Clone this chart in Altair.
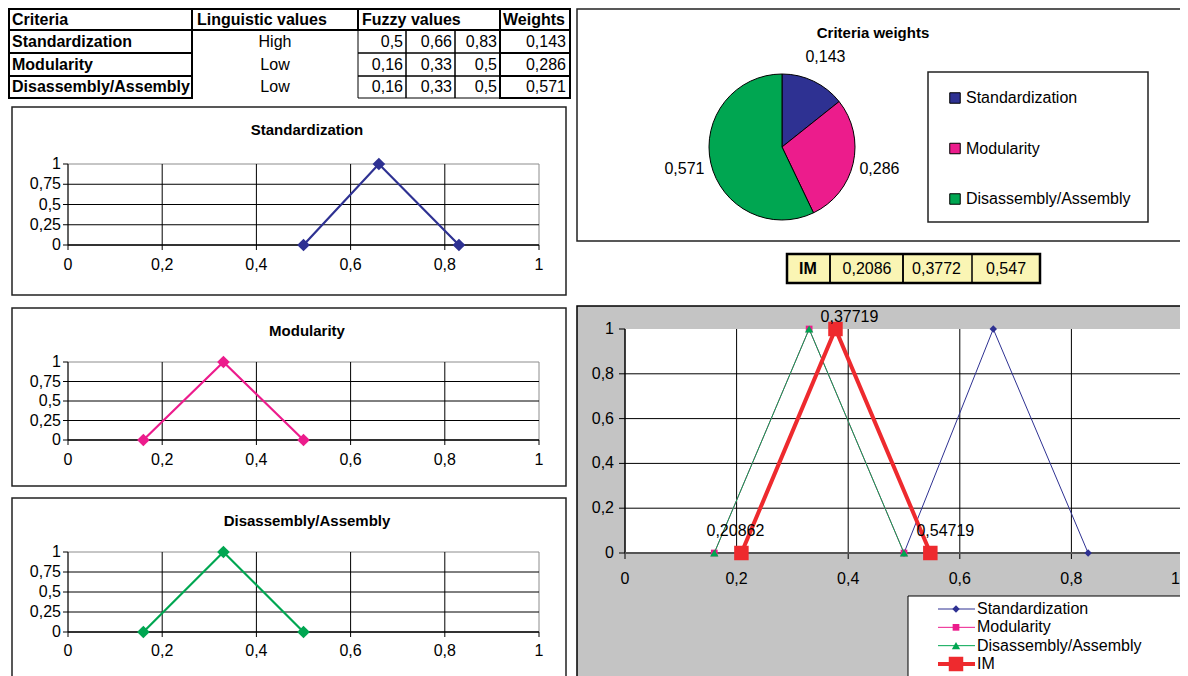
import math
import altair as alt
import pandas as pd

# ---------------- data ----------------
criteria = ["Standardization", "Modularity", "Disassembly/Assembly"]
linguistic = ["High", "Low", "Low"]
fuzzy_l = [0.5, 0.16, 0.16]
fuzzy_m = [0.66, 0.33, 0.33]
fuzzy_u = [0.83, 0.5, 0.5]
weights = [0.143, 0.286, 0.571]
table_headers = ["Criteria", "Linguistic values", "Fuzzy values", "Weights"]
im_label = "IM"
im_table_values = [0.2086, 0.3772, 0.547]
im_points = [0.20862, 0.37719, 0.54719]
membership = [0, 1, 0]
x_ticks = [0, 0.2, 0.4, 0.6, 0.8, 1]
y_ticks_small = [0, 0.25, 0.5, 0.75, 1]
y_ticks_big = [0, 0.2, 0.4, 0.6, 0.8, 1]
pie_title = "Criteria weights"
series = criteria + [im_label]

# ---------------- style ----------------
FONT = "Liberation Sans, Arial, Helvetica, sans-serif"
crit_colors = ["#2E3192", "#EC1C8C", "#00A651"]
im_color = "#EE2A2E"
series_colors = crit_colors + [im_color]
series_shapes = ["diamond", "square", "triangle-up", "square"]
series_sizes = [55, 45, 70, 210]
series_widths = [1, 1, 1, 4]
grey_bg = "#C4C4C4"
im_fill = "#FAF5B4"

W, H, M = 1172, 668, 8


def fmt(v):
    return f"{v:g}".replace(".", ",")


def PX(v):
    return alt.value(v - M)


ONE = alt.Data(values=[{"k": 1}])


def rect(x1, y1, x2, y2, fill="white", stroke="black", sw=1.0, fop=1.0):
    kw = dict(fill=fill, fillOpacity=fop)
    if stroke is not None:
        kw.update(stroke=stroke, strokeWidth=sw)
    else:
        kw.update(strokeWidth=0)
    return alt.Chart(ONE).mark_rect(**kw).encode(
        x=PX(x1), x2=PX(x2), y=PX(y1), y2=PX(y2))


def text(t, x, y, size=15, bold=False, align="center"):
    return alt.Chart(ONE).mark_text(
        text=t, font=FONT, fontSize=size, fontWeight="bold" if bold else "normal",
        align=align, baseline="middle", color="black").encode(x=PX(x), y=PX(y))


def lin(d0, d1, r0, r1):
    return alt.Scale(domain=[d0, d1], range=[r0 - M, r1 - M], nice=False, zero=False)


CXS = alt.Scale(domain=[M, M + W], range=[0, W], nice=False, zero=False)
CYS = alt.Scale(domain=[M, M + H], range=[0, H], nice=False, zero=False)


def rects(lst, sw, stroke="black"):
    df = pd.DataFrame(lst, columns=["x1", "y1", "x2", "y2"])
    return alt.Chart(df).mark_rect(fill="white", fillOpacity=0, stroke=stroke, strokeWidth=sw).encode(
        x=alt.X("x1:Q", scale=CXS, axis=None), x2="x2:Q",
        y=alt.Y("y1:Q", scale=CYS, axis=None), y2="y2:Q")


layers = []

# ---------------- top-left table ----------------
TC = [9, 192, 358, 406, 455, 500, 570]
TR = [9, 30, 53, 76, 98]
thin = [(TC[c], TR[r], TC[c + 1], TR[r + 1]) for r in range(1, 4) for c in (2, 3, 4)]
thick = [(TC[0], TR[0], TC[1], TR[1]), (TC[1], TR[0], TC[2], TR[1]),
         (TC[2], TR[0], TC[5], TR[1]), (TC[5], TR[0], TC[6], TR[1])]
thick += [(TC[0], TR[r], TC[1], TR[r + 1]) for r in range(1, 4)]
thick += [(TC[5], TR[r], TC[6], TR[r + 1]) for r in range(1, 4)]
layers.append(rects(thin, 1))
layers.append(rects(thick, 2))

for h, hx in zip(table_headers, [12, 197, 362, 503]):
    layers.append(text(h, hx, 19.5, 16, True, "left"))

tdf = pd.DataFrame({
    "r": list(range(3)), "crit": criteria, "ling": linguistic,
    "a": [fmt(v) for v in fuzzy_l], "b": [fmt(v) for v in fuzzy_m],
    "c": [fmt(v) for v in fuzzy_u], "w": [fmt(v) for v in weights]})
ROWY = lin(0, 2, 42, 87)


def col_text(field, x, align, bold=False):
    return alt.Chart(tdf).mark_text(
        align=align, baseline="middle", font=FONT, fontSize=16,
        fontWeight="bold" if bold else "normal", color="black").encode(
        x=PX(x), y=alt.Y("r:Q", scale=ROWY, axis=None), text=f"{field}:N")


layers.append(col_text("crit", 12, "left", True))
layers.append(col_text("ling", 275, "center"))
layers.append(col_text("a", 403, "right"))
layers.append(col_text("b", 452, "right"))
layers.append(col_text("c", 497, "right"))
layers.append(col_text("w", 566, "right"))

# ---------------- small membership charts ----------------
xt = pd.DataFrame({"t": x_ticks, "lab": [fmt(v) for v in x_ticks]})
yts = pd.DataFrame({"t": y_ticks_small, "lab": [fmt(v) for v in y_ticks_small]})

panels = [
    dict(box=(12, 107, 566, 295), ty=130, top=164, bottom=245, ly=265),
    dict(box=(12, 308, 566, 486), ty=331, top=362, bottom=440, ly=460),
    dict(box=(12, 498, 566, 720), ty=521, top=552, bottom=632, ly=651),
]
for i, p in enumerate(panels):
    left, right, top, bottom = 68, 539, p["top"], p["bottom"]
    xs = lin(0, 1, left, right)
    ys = lin(0, 1, bottom, top)
    layers.append(rect(*p["box"], stroke="#222222", sw=1.5))
    layers.append(text(criteria[i], 307, p["ty"], 15, True))
    layers.append(rect(left, top, right, bottom, stroke="#8C8C8C", sw=1))
    layers.append(alt.Chart(yts).transform_filter("datum.t > 0 && datum.t < 1").mark_rule(
        color="black", strokeWidth=1).encode(
        y=alt.Y("t:Q", scale=ys, axis=None), x=PX(left), x2=PX(right)))
    layers.append(alt.Chart(xt).transform_filter("datum.t > 0 && datum.t < 1").mark_rule(
        color="black", strokeWidth=1).encode(
        x=alt.X("t:Q", scale=xs, axis=None), y=PX(top), y2=PX(bottom)))
    # axes
    layers.append(alt.Chart(yts).mark_rule(color="black", strokeWidth=1).encode(
        y=alt.Y("t:Q", scale=ys, axis=None), x=PX(left - 5), x2=PX(left)))
    layers.append(alt.Chart(xt).mark_rule(color="black", strokeWidth=1).encode(
        x=alt.X("t:Q", scale=xs, axis=None), y=PX(bottom), y2=PX(bottom + 5)))
    layers.append(rect(left - 0.5, top, left + 0.5, bottom, fill="black", stroke=None))
    layers.append(rect(left, bottom - 0.75, right, bottom + 0.75, fill="black", stroke=None))
    layers.append(alt.Chart(yts).mark_text(
        align="right", baseline="middle", font=FONT, fontSize=16, color="black").encode(
        y=alt.Y("t:Q", scale=ys, axis=None), x=PX(left - 7), text="lab:N"))
    layers.append(alt.Chart(xt).mark_text(
        align="center", baseline="middle", font=FONT, fontSize=16, color="black").encode(
        x=alt.X("t:Q", scale=xs, axis=None), y=PX(p["ly"]), text="lab:N"))
    d = pd.DataFrame({"x": [fuzzy_l[i], fuzzy_m[i], fuzzy_u[i]], "y": membership})
    layers.append(alt.Chart(d).mark_line(color=crit_colors[i], strokeWidth=2.2).encode(
        x=alt.X("x:Q", scale=xs, axis=None), y=alt.Y("y:Q", scale=ys, axis=None)))
    layers.append(alt.Chart(d).mark_point(
        shape="diamond", filled=True, size=160, color=crit_colors[i], opacity=1).encode(
        x=alt.X("x:Q", scale=xs, axis=None), y=alt.Y("y:Q", scale=ys, axis=None)))

# ---------------- pie chart ----------------
layers.append(rect(577, 9, 1195, 241, stroke="#222222", sw=1.5))
layers.append(text(pie_title, 873, 33, 15, True))
pdf = pd.DataFrame({"c": criteria, "w": weights, "i": list(range(3)),
                    "lab": [fmt(w) for w in weights]})
theta_sc = alt.Scale(domain=[0, 1], range=[0, 2 * math.pi])
color_sc = alt.Scale(domain=criteria, range=crit_colors)
layers.append(alt.Chart(pdf).mark_arc(radius=73, stroke="black", strokeWidth=1).encode(
    theta=alt.Theta("w:Q", stack=True, scale=theta_sc),
    color=alt.Color("c:N", scale=color_sc, legend=None),
    order=alt.Order("i:Q"), x=PX(782), y=PX(147)))
layers.append(alt.Chart(pdf).mark_text(radius=100, font=FONT, fontSize=16, color="black").encode(
    theta=alt.Theta("w:Q", stack=True, scale=theta_sc),
    order=alt.Order("i:Q"), text="lab:N", x=PX(782), y=PX(147)))
layers.append(rect(928, 72, 1148, 222, stroke="#222222", sw=1.5))
LGY = lin(0, 2, 98, 199)
layers.append(alt.Chart(pdf).mark_square(size=110, stroke="black", strokeWidth=1, opacity=1).encode(
    x=PX(955), y=alt.Y("i:Q", scale=LGY, axis=None),
    color=alt.Color("c:N", scale=color_sc, legend=None)))
layers.append(alt.Chart(pdf).mark_text(align="left", baseline="middle", font=FONT, fontSize=16,
                                       color="black").encode(
    x=PX(966), y=alt.Y("i:Q", scale=LGY, axis=None), text="c:N"))

# ---------------- IM table ----------------
layers.append(rect(787, 254, 1040, 283, fill=im_fill, stroke="black", sw=2.5))
layers.append(rects([(787, 254, 830, 283), (830, 254, 903, 283), (903, 254, 972, 283)], 1.5))
layers.append(text(im_label, 808, 268.5, 16, True))
imdf = pd.DataFrame({"k": list(range(3)), "lab": [fmt(v) for v in im_table_values]})
layers.append(alt.Chart(imdf).mark_text(align="center", baseline="middle", font=FONT, fontSize=16,
                                        color="black").encode(
    x=alt.X("k:Q", scale=lin(0, 2, 867, 1006), axis=None), y=PX(268.5), text="lab:N"))

# ---------------- combined chart ----------------
L, R, T, B = 625, 1183, 329, 553
XS = lin(0, 1, L, R)
YS = lin(0, 1, B, T)
ytb = pd.DataFrame({"t": y_ticks_big, "lab": [fmt(v) for v in y_ticks_big]})
layers.append(rect(577, 306, 1195, 720, fill=grey_bg, stroke="black", sw=1.5))
layers.append(rect(L, T, R, B, fill="white", stroke=None))
layers.append(alt.Chart(ytb).transform_filter("datum.t > 0 && datum.t < 1").mark_rule(
    color="black", strokeWidth=1).encode(
    y=alt.Y("t:Q", scale=YS, axis=None), x=PX(L), x2=PX(R)))
layers.append(alt.Chart(xt).transform_filter("datum.t > 0 && datum.t < 1").mark_rule(
    color="black", strokeWidth=1).encode(
    x=alt.X("t:Q", scale=XS, axis=None), y=PX(T), y2=PX(B)))
layers.append(alt.Chart(ytb).mark_rule(color="black", strokeWidth=1).encode(
    y=alt.Y("t:Q", scale=YS, axis=None), x=PX(L - 6), x2=PX(L)))
layers.append(alt.Chart(xt).mark_rule(color="black", strokeWidth=1).encode(
    x=alt.X("t:Q", scale=XS, axis=None), y=PX(B), y2=PX(B + 6)))
layers.append(rect(L - 0.75, T, L + 0.75, B, fill="black", stroke=None))
layers.append(rect(L, B - 1, R, B + 1, fill="#555555", stroke=None))
layers.append(alt.Chart(ytb).mark_text(align="right", baseline="middle", font=FONT, fontSize=16,
                                       color="black").encode(
    y=alt.Y("t:Q", scale=YS, axis=None), x=PX(L - 11), text="lab:N"))
# x tick labels; the last one sits at the right edge of the page, so it is right-aligned
layers.append(alt.Chart(xt).transform_filter("datum.t < 1").mark_text(
    align="center", baseline="middle", font=FONT, fontSize=16, color="black").encode(
    x=alt.X("t:Q", scale=XS, axis=None), y=PX(579), text="lab:N"))
layers.append(alt.Chart(xt).transform_filter("datum.t == 1").mark_text(
    align="right", baseline="middle", font=FONT, fontSize=16, color="black", dx=-3).encode(
    x=alt.X("t:Q", scale=XS, axis=None), y=PX(579), text="lab:N"))

series_x = [[fuzzy_l[i], fuzzy_m[i], fuzzy_u[i]] for i in range(3)] + [im_points]
for k, name in enumerate(series):
    d = pd.DataFrame({"x": series_x[k], "y": membership})
    layers.append(alt.Chart(d).mark_line(color=series_colors[k], strokeWidth=series_widths[k]).encode(
        x=alt.X("x:Q", scale=XS, axis=None), y=alt.Y("y:Q", scale=YS, axis=None)))
    layers.append(alt.Chart(d).mark_point(shape=series_shapes[k], filled=True, size=series_sizes[k],
                                          color=series_colors[k], opacity=1).encode(
        x=alt.X("x:Q", scale=XS, axis=None), y=alt.Y("y:Q", scale=YS, axis=None)))

# data labels of IM
label_offsets = [(-6, -22), (14, -12), (15, -22)]
for j in range(3):
    d = pd.DataFrame({"x": [im_points[j]], "y": [membership[j]],
                      "lab": [f"{im_points[j]:.5f}".replace(".", ",")]})
    layers.append(alt.Chart(d).mark_text(align="center", baseline="middle", font=FONT, fontSize=16,
                                         color="black", dx=label_offsets[j][0],
                                         dy=label_offsets[j][1]).encode(
        x=alt.X("x:Q", scale=XS, axis=None), y=alt.Y("y:Q", scale=YS, axis=None), text="lab:N"))

# legend of combined chart
layers.append(rect(908, 596, 1195, 720, fill="white", stroke="black", sw=1))
ldf = pd.DataFrame({"s": series, "i": list(range(4))})
LY = lin(0, 3, 609, 664)
for k, name in enumerate(series):
    sub = alt.Chart(ldf).transform_filter(alt.datum.s == name)
    layers.append(sub.mark_rule(color=series_colors[k], strokeWidth=series_widths[k]).encode(
        x=PX(938), x2=PX(975), y=alt.Y("i:Q", scale=LY, axis=None)))
    layers.append(sub.mark_point(shape=series_shapes[k], filled=True, size=series_sizes[k],
                                 color=series_colors[k], opacity=1).encode(
        x=PX(956), y=alt.Y("i:Q", scale=LY, axis=None)))
layers.append(alt.Chart(ldf).mark_text(align="left", baseline="middle", font=FONT, fontSize=16,
                                       color="black").encode(
    x=PX(977), y=alt.Y("i:Q", scale=LY, axis=None), text="s:N"))

chart = alt.layer(*layers).resolve_scale(
    x="independent", y="independent", color="independent", theta="independent"
).properties(
    width=W, height=H, padding=0, autosize=alt.AutoSizeParams(type="none")
).configure_view(stroke=None)

chart.save("out.html", embed_options={"renderer": "svg", "actions": False})
